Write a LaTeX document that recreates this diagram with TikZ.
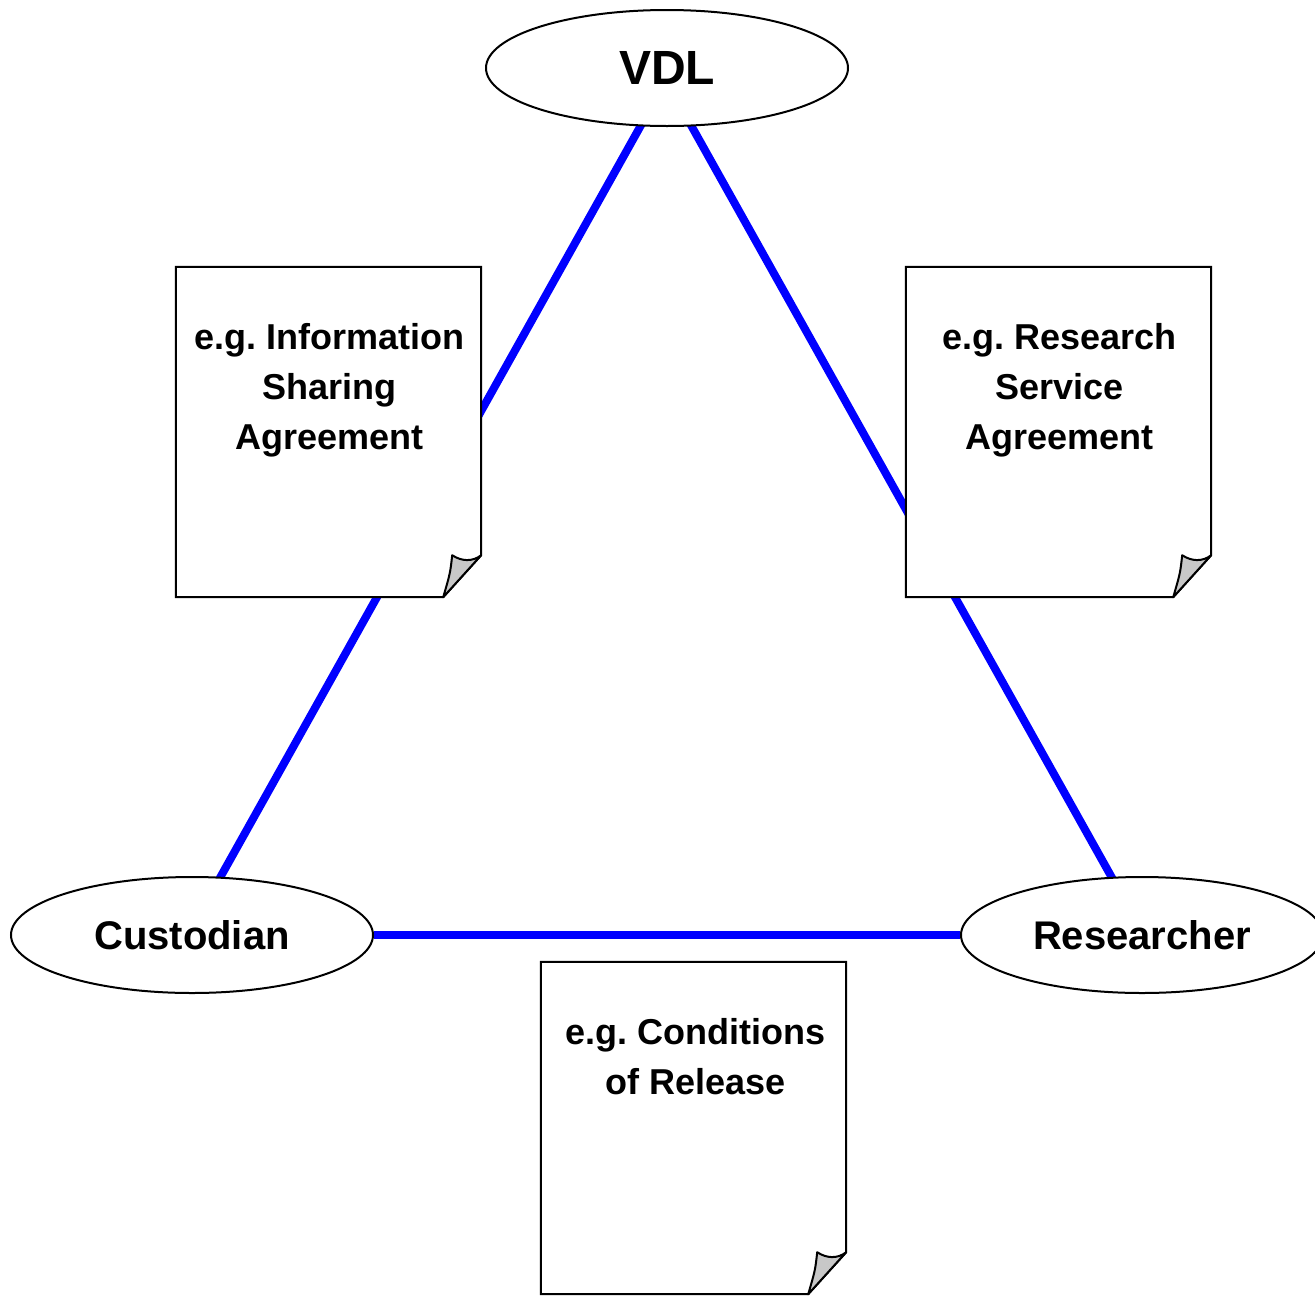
\documentclass[tikz,border=0pt]{standalone}
\usepackage{fontspec}
\setmainfont{Liberation Sans}
\usetikzlibrary{shapes.geometric,calc}
\definecolor{linkblue}{RGB}{0,0,255}
\definecolor{foldgray}{RGB}{200,200,200}
\pgfdeclarelayer{background}
\pgfsetlayers{background,main}
\frenchspacing

% Sheet of paper with a curled lower-right corner, drawn around a named node
\newcommand\paperoutline[1]{%
  \path[docline] (#1.north west) -- (#1.north east)
    -- ($(#1.south east)+(0,-42)$) -- ($(#1.south east)+(-38,0)$)
    -- (#1.south west) -- cycle;
  \path[foldline] ($(#1.south east)+(-38,0)$) -- ($(#1.south east)+(0,-42)$)
    .. controls ($(#1.south east)+(-9,-35)$) and ($(#1.south east)+(-20,-36)$)
    .. ($(#1.south east)+(-29,-42)$)
    .. controls ($(#1.south east)+(-31,-24)$) .. ($(#1.south east)+(-38,0)$) -- cycle;
}

\begin{document}
\begin{tikzpicture}[x=1pt,y=-1pt,
  party/.style={ellipse, draw=black, line width=2pt, fill=white,
    minimum width=362pt, minimum height=116pt, inner sep=0pt,
    font=\bfseries\fontsize{40}{48}\selectfont},
  link/.style={draw=linkblue, line width=8pt},
  paper/.style={rectangle, minimum width=305pt, minimum height=330pt, inner sep=0pt},
  papertext/.style={anchor=north, align=center, inner sep=0pt,
    font=\bfseries\fontsize{36}{50}\selectfont},
  docline/.style={draw=black, line width=2pt, fill=white, line join=miter},
  foldline/.style={draw=black, line width=2pt, fill=foldgray, line join=round}]
\useasboundingbox (0,0) rectangle (1315,1296);

% the three parties
\node[party, font=\bfseries\fontsize{48}{56}\selectfont] (vdl) at (667,68) {VDL};
\node[party] (cust) at (192,935) {\raisebox{-3pt}{Custodian}};
\node[party] (res) at (1142,935) {\raisebox{-3pt}{Researcher}};

% agreement sheets
\node[paper] (isa) at (328.5,432) {};
\node[paper] (rsa) at (1058.5,432) {};
\node[paper, minimum height=332pt] (cor) at (693.5,1128) {};

% relationships, kept behind the parties and sheets
\begin{pgfonlayer}{background}
  \draw[link] ($(vdl.center)+(6,0)$) -- ($(cust.center)+(-4,0)$);
  \draw[link] ($(vdl.center)+(-8,0)$) -- ($(res.center)+(2,0)$);
  \draw[link] (cust) -- (res);
\end{pgfonlayer}

\paperoutline{isa}
\paperoutline{rsa}
\paperoutline{cor}

\node[papertext] (isatext) at ($(isa.north)+(1,56)$) {e.g. Information\\Sharing\\Agreement};
\node[papertext] (rsatext) at ($(rsa.north)+(1,56)$) {e.g. Research\\Service\\Agreement};
\node[papertext] (cortext) at ($(cor.north)+(2,56)$) {e.g. Conditions\\of Release};
\end{tikzpicture}
\end{document}
